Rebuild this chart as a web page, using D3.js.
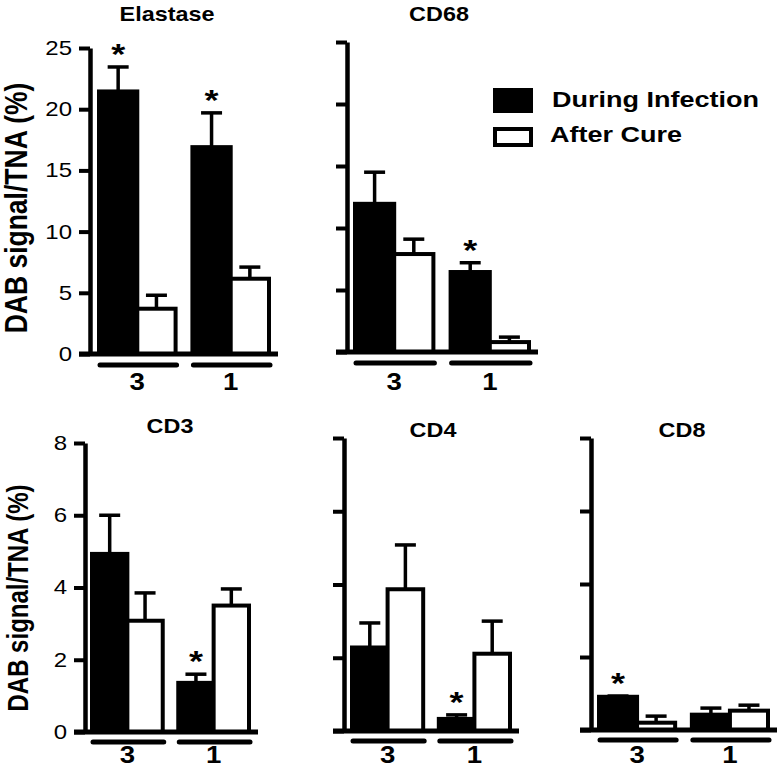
<html lang="en">
<head>
<meta charset="utf-8">
<title>DAB signal / TNA</title>
<script src="https://d3js.org/d3.v7.min.js"></script>
<style>
  body { margin: 0; background: white; }
  text { font-family: "Liberation Sans", Arial, Helvetica, sans-serif; fill: black; }
</style>
</head>
<body>
<div id="chart"></div>
<script>
// ---- data ----
var panelNames = ["Elastase", "CD68", "CD3", "CD4", "CD8"];
var groups = ["3", "1"];
var seriesNames = ["During Infection", "After Cure"];
var duringMean = [[21.45, 16.9], [11.95, 6.45], [4.93, 1.36], [2.28, 0.33], [0.91, 0.42]];
var duringSem  = [[2.0, 2.8], [2.55, 0.75], [1.07, 0.24], [0.67, 0.11], [0.02, 0.18]];
var afterMean  = [[3.7, 6.15], [7.9, 0.8], [3.08, 3.5], [3.87, 2.11], [0.2, 0.53]];
var afterSem   = [[1.1, 0.95], [1.2, 0.4], [0.77, 0.46], [1.21, 0.89], [0.18, 0.15]];
var starred    = [[true, true], [false, true], [false, true], [false, true], [true, false]];
var yMax = [25, 25, 8, 8, 8];
var yTicks = [[0, 5, 10, 15, 20, 25], [0, 5, 10, 15, 20, 25], [0, 2, 4, 6, 8], [0, 2, 4, 6, 8], [0, 2, 4, 6, 8]];
var yLabel = "DAB signal/TNA (%)";

// ---- layout (pixels) ----
var SX = 1.2; // the figure is stretched horizontally
var layout = [
  {x: 90,  top: 48,  base: 354, l: 99,  r: 269, tx: 167, ty: 21,  labels: true,  row: 0},
  {x: 347, top: 42,  base: 352, l: 355, r: 529, tx: 439, ty: 21,  labels: false, row: 0},
  {x: 85,  top: 443, base: 732, l: 92,  r: 249, tx: 170, ty: 433, labels: true,  row: 1},
  {x: 344, top: 438, base: 731, l: 352, r: 510, tx: 433, ty: 437, labels: false, row: 1},
  {x: 591, top: 438, base: 730, l: 599, r: 768, tx: 682, ty: 437, labels: false, row: 1}
];
var rowCfg = [
  {under: 11, glab: 390, ylx: 27, yly: 208, ylsize: 26.5},
  {under: 10, glab: 763, ylx: 28, yly: 598, ylsize: 24}
];

var width = 781, height = 770;
var svg = d3.select("#chart").append("svg")
  .attr("width", width)
  .attr("height", height);

var fillScale = d3.scaleOrdinal().domain(seriesNames).range(["black", "white"]);

function stretchText(sel, x, y) {
  return sel.attr("transform", "translate(" + x + "," + y + ") scale(" + SX + ",1)");
}

panelNames.forEach(function(name, i) {
  var L = layout[i];
  var R = rowCfg[L.row];
  var g = svg.append("g");

  var y = d3.scaleLinear().domain([0, yMax[i]]).range([L.base, L.top]);
  var x0 = d3.scaleBand().domain(groups).range([L.l, L.r]).paddingInner(0.18);
  var x1 = d3.scaleBand().domain(seriesNames).range([0, x0.bandwidth()]);

  var rows = [];
  groups.forEach(function(grp, j) {
    rows.push({g: grp, s: seriesNames[0], v: duringMean[i][j], e: duringSem[i][j], star: starred[i][j]});
    rows.push({g: grp, s: seriesNames[1], v: afterMean[i][j], e: afterSem[i][j], star: false});
  });

  function cx(d) { return x0(d.g) + x1(d.s) + x1.bandwidth() / 2; }

  // error bars (upper only)
  g.selectAll(".stem").data(rows).enter().append("line")
    .attr("x1", cx).attr("x2", cx)
    .attr("y1", function(d) { return y(d.v); })
    .attr("y2", function(d) { return y(d.v + d.e); })
    .attr("stroke", "black").attr("stroke-width", 3.5);
  g.selectAll(".cap").data(rows).enter().append("line")
    .attr("x1", function(d) { return cx(d) - 10.5; })
    .attr("x2", function(d) { return cx(d) + 10.5; })
    .attr("y1", function(d) { return y(d.v + d.e); })
    .attr("y2", function(d) { return y(d.v + d.e); })
    .attr("stroke", "black").attr("stroke-width", 3.5);

  // bars
  g.selectAll(".bar").data(rows).enter().append("rect")
    .attr("x", function(d) { return x0(d.g) + x1(d.s); })
    .attr("y", function(d) { return y(d.v); })
    .attr("width", x1.bandwidth())
    .attr("height", function(d) { return y(0) - y(d.v); })
    .attr("fill", function(d) { return fillScale(d.s); })
    .attr("stroke", "black").attr("stroke-width", 4);

  // stars
  g.selectAll(".star").data(rows.filter(function(d) { return d.star; })).enter().append("text")
    .each(function(d) { stretchText(d3.select(this), cx(d), y(d.v + d.e) - 3); })
    .attr("text-anchor", "middle")
    .attr("font-size", 30).attr("font-weight", "bold")
    .text("*");

  // y axis
  var axis = d3.axisLeft(y).tickValues(yTicks[i]).tickSize(11).tickSizeOuter(0)
    .tickFormat(L.labels ? d3.format("d") : function() { return ""; });
  var ax = g.append("g").attr("transform", "translate(" + L.x + ",0)").call(axis);
  ax.select(".domain").attr("stroke-width", 4.5);
  ax.selectAll(".tick line").attr("stroke-width", 4);
  ax.selectAll(".tick text")
    .attr("x", -18 / SX).attr("transform", "scale(" + SX + ",1)")
    .attr("font-size", 20).attr("font-family", null).attr("fill", "black");

  // baseline
  g.append("line")
    .attr("x1", L.x - 11).attr("x2", L.r + 9)
    .attr("y1", y(0)).attr("y2", y(0))
    .attr("stroke", "black").attr("stroke-width", 5);

  // group underlines and labels
  g.selectAll(".under").data(groups).enter().append("line")
    .attr("x1", function(d) { return x0(d) + 1; })
    .attr("x2", function(d) { return x0(d) + x0.bandwidth() + 1; })
    .attr("y1", L.base + R.under).attr("y2", L.base + R.under)
    .attr("stroke", "black").attr("stroke-width", 5).attr("stroke-linecap", "round");
  g.selectAll(".glab").data(groups).enter().append("text")
    .each(function(d) { stretchText(d3.select(this), x0(d) + x0.bandwidth() / 2, R.glab); })
    .attr("text-anchor", "middle")
    .attr("font-size", 23).attr("font-weight", "bold")
    .text(function(d) { return d; });

  // title
  stretchText(g.append("text"), L.tx, L.ty)
    .attr("text-anchor", "middle")
    .attr("font-size", 19.5).attr("font-weight", "bold")
    .text(name);

  // y label on first column
  if (L.labels) {
    svg.append("text")
      .attr("transform", "translate(" + R.ylx + "," + R.yly + ") rotate(-90) scale(1," + SX + ")")
      .attr("text-anchor", "middle")
      .attr("font-size", R.ylsize).attr("font-weight", "bold")
      .text(yLabel);
  }
});

// legend
var legend = svg.append("g");
var legY = d3.scaleOrdinal().domain(seriesNames).range([90, 129]);
var legH = d3.scaleOrdinal().domain(seriesNames).range([21, 16]);
legend.selectAll("rect").data(seriesNames).enter().append("rect")
  .attr("x", 495).attr("y", function(d) { return legY(d); })
  .attr("width", 36).attr("height", function(d) { return legH(d); })
  .attr("fill", function(d) { return fillScale(d); })
  .attr("stroke", "black").attr("stroke-width", 4);
var legTextY = d3.scaleOrdinal().domain(seriesNames).range([107, 142]);
var legTextX = d3.scaleOrdinal().domain(seriesNames).range([552, 550]);
legend.selectAll("text").data(seriesNames).enter().append("text")
  .each(function(d) { stretchText(d3.select(this), legTextX(d), legTextY(d)); })
  .attr("font-size", 22.5).attr("font-weight", "bold")
  .text(function(d) { return d; });
</script>
</body>
</html>
